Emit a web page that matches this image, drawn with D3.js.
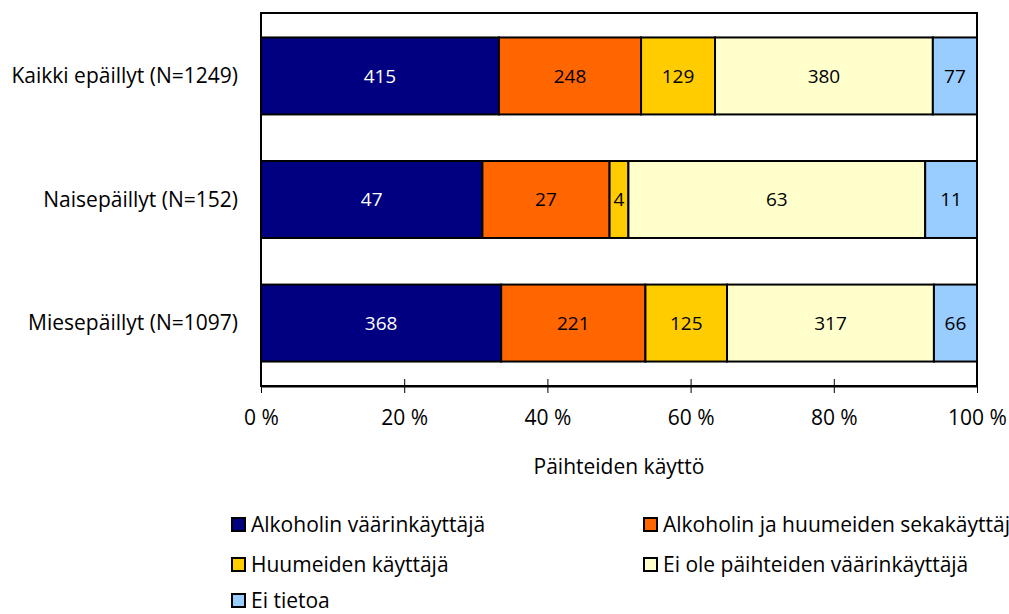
<!DOCTYPE html>
<html>
<head>
<meta charset="utf-8">
<script src="https://cdn.jsdelivr.net/npm/d3@7"></script>
<style>
  body { margin: 0; background: #fff; }
  svg { display: block; font-family: "Open Sans", sans-serif; }
</style>
</head>
<body>
<div id="chart"></div>
<script>
var categories = ["Kaikki epäillyt (N=1249)", "Naisepäillyt (N=152)", "Miesepäillyt (N=1097)"];
var seriesNames = ["Alkoholin väärinkäyttäjä", "Alkoholin ja huumeiden sekakäyttäjä", "Huumeiden käyttäjä", "Ei ole päihteiden väärinkäyttäjä", "Ei tietoa"];
var alcohol = [415, 47, 368];
var mixed = [248, 27, 221];
var drugs = [129, 4, 125];
var none = [380, 63, 317];
var unknown = [77, 11, 66];
var tickLabels = ["0 %", "20 %", "40 %", "60 %", "80 %", "100 %"];
var colors = ["#000080", "#FF6600", "#FFCC00", "#FFFFCC", "#99CCFF"];
var labelColors = ["#fff", "#000", "#000", "#000", "#000"];

var width = 1009, height = 614;
var margin = {left: 261, right: 32, top: 13, bottom: 228};

var svg = d3.select("#chart").append("svg")
    .attr("width", width)
    .attr("height", height);

var x = d3.scaleLinear().domain([0, 1]).range([margin.left, width - margin.right]);
var y = d3.scaleBand().domain(categories)
    .range([margin.top, height - margin.bottom])
    .paddingInner(0.377).paddingOuter(0.198);

var series = [alcohol, mixed, drugs, none, unknown];
var rows = categories.map(function(c, i) {
  var r = {cat: c};
  seriesNames.forEach(function(s, j) { r[s] = series[j][i]; });
  return r;
});
var stacked = d3.stack().keys(seriesNames)
  .offset(d3.stackOffsetExpand)(rows);

// plot frame
svg.append("rect")
  .attr("x", x(0)).attr("y", margin.top)
  .attr("width", x(1) - x(0)).attr("height", height - margin.bottom - margin.top)
  .attr("fill", "none").attr("stroke", "#000").attr("stroke-width", 2);

var layer = svg.selectAll("g.layer").data(stacked).enter().append("g")
  .attr("class", "layer");

layer.each(function(s, k) {
  var g = d3.select(this);
  g.selectAll("rect").data(s).enter().append("rect")
    .attr("x", function(d) { return x(d[0]); })
    .attr("y", function(d) { return y(d.data.cat); })
    .attr("width", function(d) { return x(d[1]) - x(d[0]); })
    .attr("height", y.bandwidth())
    .attr("fill", colors[k])
    .attr("stroke", "#000").attr("stroke-width", 2);
});

layer.each(function(s, k) {
  d3.select(this).selectAll("text").data(s).enter().append("text")
    .attr("x", function(d) { return (x(d[0]) + x(d[1])) / 2; })
    .attr("y", function(d) { return y(d.data.cat) + y.bandwidth() / 2; })
    .attr("dy", "0.35em")
    .attr("text-anchor", "middle")
    .attr("font-size", 19)
    .attr("fill", labelColors[k])
    .text(function(d) { return d.data[s.key]; });
});

// x axis
var xAxis = d3.axisBottom(x).tickValues([0, 0.2, 0.4, 0.6, 0.8, 1])
  .tickFormat(function(d, i) { return tickLabels[i]; })
  .tickSizeInner(7).tickSizeOuter(0).tickPadding(17);
var ax = svg.append("g")
  .attr("transform", "translate(0," + (height - margin.bottom) + ")")
  .call(xAxis);
ax.select(".domain").attr("stroke", "#000").attr("stroke-width", 2);
ax.selectAll(".tick line").attr("y1", -7).attr("stroke", "#000");
ax.selectAll(".tick text").attr("font-size", 21).attr("fill", "#000")
  .attr("font-family", "Open Sans, sans-serif");

// y labels
svg.selectAll("text.cat").data(categories).enter().append("text")
  .attr("class", "cat")
  .attr("x", 238)
  .attr("y", function(d) { return y(d) + y.bandwidth() / 2; })
  .attr("dy", "0.35em")
  .attr("text-anchor", "end")
  .attr("font-size", 21)
  .text(function(d) { return d; });

svg.append("text")
  .attr("x", 619).attr("y", 467)
  .attr("dy", "0.35em")
  .attr("text-anchor", "middle")
  .attr("font-size", 21)
  .text("Päihteiden käyttö");

// legend (second column runs past the right edge, as in the original)
var legendPos = [[232, 525], [644, 525], [232, 565], [644, 565], [232, 601]];
var leg = svg.selectAll("g.leg").data(seriesNames).enter().append("g")
  .attr("class", "leg")
  .attr("transform", function(d, i) { return "translate(" + legendPos[i][0] + "," + legendPos[i][1] + ")"; });
leg.append("rect")
  .attr("x", 0).attr("y", -7).attr("width", 13).attr("height", 13)
  .attr("fill", function(d, i) { return colors[i]; })
  .attr("stroke", "#000").attr("stroke-width", 2);
leg.append("text")
  .attr("x", 19).attr("y", 0).attr("dy", "0.35em")
  .attr("font-size", 21)
  .text(function(d) { return d; });
</script>
</body>
</html>
